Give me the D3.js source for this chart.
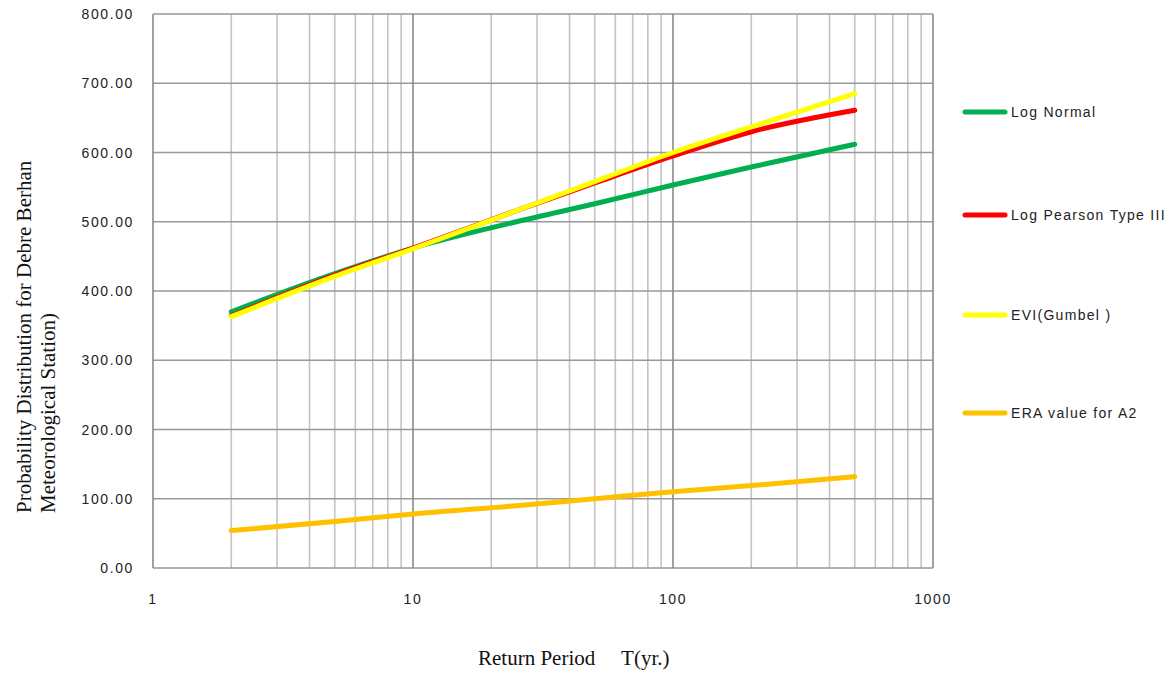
<!DOCTYPE html>
<html>
<head>
<meta charset="utf-8" />
<title>Return period chart</title>
<style>
html, body {
    margin: 0;
    padding: 0;
    background: #fff;
}
.tick-lbl {
    font-family: "Liberation Sans", Arial, sans-serif;
    font-size: 14px;
    letter-spacing: 1.6px;
    fill: #222;
}
.legend-lbl {
    font-family: "Liberation Sans", Arial, sans-serif;
    font-size: 14px;
    letter-spacing: 1.3px;
    fill: #222;
}
.axis-title {
    font-family: "Liberation Serif", "Times New Roman", serif;
    font-size: 21px;
    fill: #111;
}
</style>
</head>
<body>
<svg id="chart" width="1175" height="674"></svg>
<script src="https://cdnjs.cloudflare.com/ajax/libs/d3/7.8.5/d3.min.js"></script>
<script>
!(function(){
    "use strict"

    // return periods (yr)
    var periods = [2, 5, 10, 25, 50, 100, 200, 500]

    var logNormal   = [370, 425, 462, 500, 526, 553, 579, 612]
    var logPearson3 = [364, 423, 462, 516, 556, 595, 630, 661]
    var gumbel      = [363, 421, 461, 516, 558, 600, 637, 685]
    var eraA2       = [54, 67, 78, 90, 100, 110, 119, 132]

    var seriesNames  = ["Log Normal", "Log Pearson Type III", "EVI(Gumbel )", "ERA value for A2"]
    var seriesColors = ["#00b050", "#ff0000", "#ffff00", "#ffc000"]

    var yTicks = [0, 100, 200, 300, 400, 500, 600, 700, 800]
    var xTicks = [1, 10, 100, 1000]

    var svg = d3.select("#chart")

    var x = d3.scaleLog().domain([1, 1000]).range([153, 933])
    var y = d3.scaleLinear().domain([0, 800]).range([568, 14])

    // grid: minor verticals first, then decades and horizontals
    var minor = []
    for (var d = 1; d < 1000; d *= 10) {
        for (var k = 2; k <= 9; k++) minor.push(d * k)
    }

    var grid = svg.append("g")
    grid.selectAll("line.minor")
        .data(minor)
        .enter().append("line")
        .attr("x1", function(v){ return x(v) })
        .attr("x2", function(v){ return x(v) })
        .attr("y1", y(0)).attr("y2", y(800))
        .attr("stroke", "#c4c4c4")
        .attr("stroke-width", 1.6)

    grid.selectAll("line.hz")
        .data(yTicks)
        .enter().append("line")
        .attr("x1", x(1)).attr("x2", x(1000))
        .attr("y1", function(v){ return y(v) })
        .attr("y2", function(v){ return y(v) })
        .attr("stroke", "#999")
        .attr("stroke-width", 1.6)

    grid.selectAll("line.major")
        .data(xTicks)
        .enter().append("line")
        .attr("x1", function(v){ return x(v) })
        .attr("x2", function(v){ return x(v) })
        .attr("y1", y(0)).attr("y2", y(800))
        .attr("stroke", "#8a8a8a")
        .attr("stroke-width", 1.6)

    // tick labels
    svg.append("g").selectAll("text")
        .data(yTicks)
        .enter().append("text")
        .attr("class", "tick-lbl")
        .attr("x", 134)
        .attr("y", function(v){ return y(v) + 5 })
        .attr("text-anchor", "end")
        .text(function(v){ return d3.format(".2f")(v) })

    svg.append("g").selectAll("text")
        .data(xTicks)
        .enter().append("text")
        .attr("class", "tick-lbl")
        .attr("x", function(v){ return x(v) })
        .attr("y", 604)
        .attr("text-anchor", "middle")
        .text(function(v){ return v })

    // series
    var allSeries = [logNormal, logPearson3, gumbel, eraA2]
    var line = d3.line()
        .x(function(d, i){ return x(periods[i]) })
        .y(function(d){ return y(d) })
        .curve(d3.curveMonotoneX)

    svg.append("g").selectAll("path")
        .data(allSeries)
        .enter().append("path")
        .attr("d", line)
        .attr("fill", "none")
        .attr("stroke", function(d, i){ return seriesColors[i] })
        .attr("stroke-width", 5)
        .attr("stroke-linecap", "round")
        .attr("stroke-linejoin", "round")

    // legend
    var legendY = [112, 215, 315, 413]
    var lg = svg.append("g").selectAll("g")
        .data(seriesNames)
        .enter().append("g")
        .attr("transform", function(d, i){ return "translate(965," + legendY[i] + ")" })

    lg.append("line")
        .attr("x1", 0).attr("x2", 40)
        .attr("stroke", function(d, i){ return seriesColors[i] })
        .attr("stroke-width", 5)
        .attr("stroke-linecap", "round")

    lg.append("text")
        .attr("class", "legend-lbl")
        .attr("x", 46)
        .attr("y", 5)
        .text(function(d){ return d })

    // axis titles
    var yt = svg.append("text")
        .attr("class", "axis-title")
        .attr("transform", "translate(0,513) rotate(-90)")
    yt.append("tspan").attr("x", 0).attr("y", 31).text("Probability Distribution for Debre Berhan")
    yt.append("tspan").attr("x", 0).attr("y", 55).text("Meteorological Station)")

    svg.append("text")
        .attr("class", "axis-title")
        .attr("x", 478)
        .attr("y", 665)
        .attr("xml:space", "preserve")
        .style("white-space", "pre")
        .text("Return Period     T(yr.)")
}());
</script>
</body>
</html>
